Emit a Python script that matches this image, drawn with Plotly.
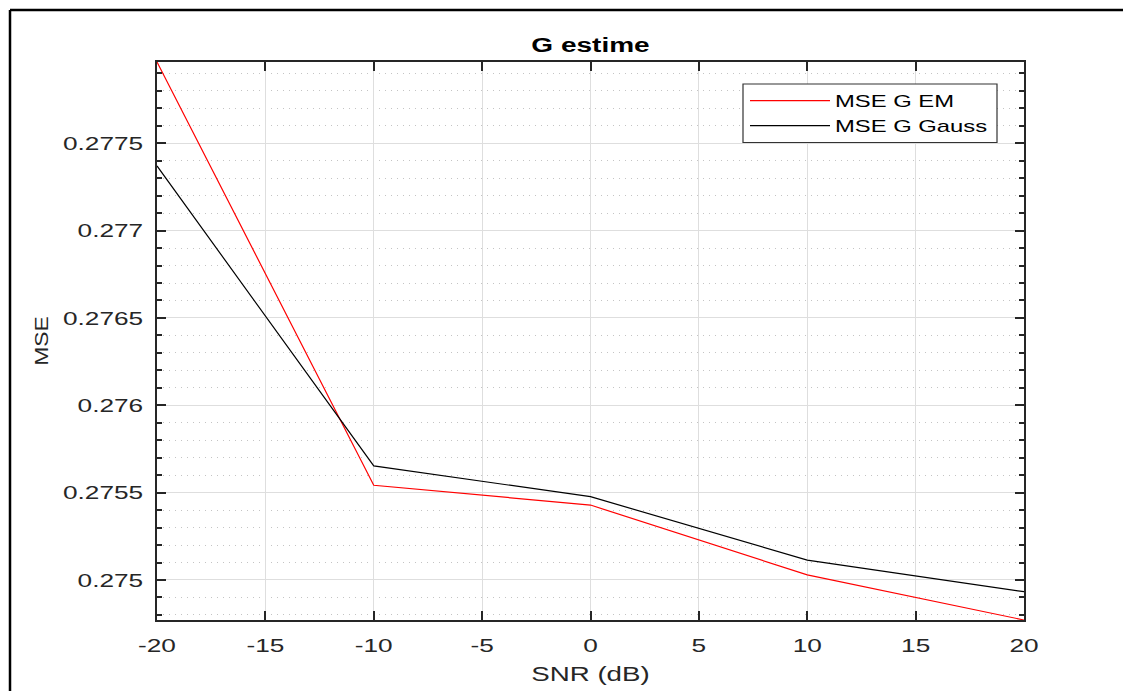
import plotly.graph_objects as go

snr_db = [-20, -10, 0, 10, 20]
mse_em = [0.277965, 0.275542, 0.275429, 0.275029, 0.274771]
mse_gauss = [0.277370, 0.275653, 0.275477, 0.275114, 0.274933]

x_ticks = [-20, -15, -10, -5, 0, 5, 10, 15, 20]
x_ticktext = ["-20", "-15", "-10", "-5", "0", "5", "10", "15", "20"]
y_ticks = [0.275, 0.2755, 0.276, 0.2765, 0.277, 0.2775]
y_ticktext = ["0.275", "0.2755", "0.276", "0.2765", "0.277", "0.2775"]

W, H = 1123, 691
L, R, T, B = 157, 99, 62, 71
pw, ph = W - L - R, H - T - B

axcol = "#262626"
font = "Liberation Sans, Arial, sans-serif"


def px_x(p):
    return (p - L) / pw


def px_y(p):
    return (H - B - p) / ph


fig = go.Figure()
fig.add_trace(go.Scatter(x=snr_db, y=mse_em, mode="lines", name="MSE G EM",
                         line=dict(color="#ff0000", width=1.2)))
fig.add_trace(go.Scatter(x=snr_db, y=mse_gauss, mode="lines", name="MSE G Gauss",
                         line=dict(color="#000000", width=1.2)))

fig.update_layout(
    width=W, height=H,
    margin=dict(l=L, r=R, t=T, b=B, autoexpand=False),
    paper_bgcolor="white", plot_bgcolor="white",
    font=dict(family=font, color=axcol, size=19),
    title=dict(text="G estime", x=(L + pw / 2) / W, xanchor="center",
               y=1 - 44.5 / H, yanchor="middle",
               font=dict(size=20, color="#000000", weight=700)),
    showlegend=True,
    legend=dict(x=px_x(745), y=px_y(83), xanchor="left", yanchor="top",
                bgcolor="rgba(0,0,0,0)", borderwidth=0,
                font=dict(size=17, color="#000000"), tracegroupgap=0,
                itemwidth=80),
    xaxis=dict(
        range=[-20, 20], tickvals=x_ticks, ticktext=x_ticktext,
        showline=True, linecolor=axcol, linewidth=2, mirror="allticks",
        ticks="inside", ticklen=9, tickwidth=2, tickcolor=axcol,
        showgrid=True, gridcolor="#dedede", gridwidth=1, zeroline=False,
        tickfont=dict(size=19), ticklabelstandoff=7,
        title=dict(text="SNR (dB)", font=dict(size=19.5), standoff=13),
    ),
    yaxis=dict(
        range=[0.274771, 0.277965], tickvals=y_ticks, ticktext=y_ticktext,
        showline=True, linecolor=axcol, linewidth=2, mirror="allticks",
        ticks="inside", ticklen=9, tickwidth=2, tickcolor=axcol,
        showgrid=True, gridcolor="#dedede", gridwidth=1, zeroline=False,
        tickfont=dict(size=19), ticklabelstandoff=8,
        title=dict(text="MSE", font=dict(size=18), standoff=32),
        minor=dict(dtick=0.0001, tick0=0.275, ticks="inside", ticklen=5,
                   tickwidth=2, tickcolor=axcol, showgrid=True,
                   gridcolor="#c4c4c4", griddash="1px,5px", gridwidth=1),
    ),
)

# legend box
fig.add_shape(type="rect", xref="paper", yref="paper", layer="above",
              x0=px_x(743), x1=px_x(997), y0=px_y(84), y1=px_y(142.5),
              fillcolor="white", line=dict(color="#333333", width=1.2))

# outer figure border (left and top lines)
fig.add_shape(type="line", xref="paper", yref="paper",
              x0=px_x(10), x1=px_x(10), y0=px_y(10), y1=px_y(H + 5),
              line=dict(color="#000000", width=2.5))
fig.add_shape(type="line", xref="paper", yref="paper",
              x0=px_x(10), x1=px_x(W + 5), y0=px_y(10), y1=px_y(10),
              line=dict(color="#000000", width=2.5))

post_js = """
var gd = document.getElementById('{plot_id}');
function stretchText(sel, f) {
  gd.querySelectorAll(sel).forEach(function (t) {
    try {
      var w = t.getComputedTextLength();
      if (w > 0) {
        t.setAttribute('textLength', (w * f).toFixed(2));
        t.setAttribute('lengthAdjust', 'spacingAndGlyphs');
      }
    } catch (e) {}
  });
}
stretchText('.xtick text', 1.38);
stretchText('.ytick text', 1.38);
stretchText('text.gtitle', 1.40);
stretchText('text.xtitle', 1.42);
stretchText('text.ytitle', 1.27);
stretchText('text.legendtext', 1.40);
gd.querySelectorAll('.legend [clip-path]').forEach(function (el) {
  el.removeAttribute('clip-path');
});
"""

fig.write_html("out.html", post_script=post_js)
